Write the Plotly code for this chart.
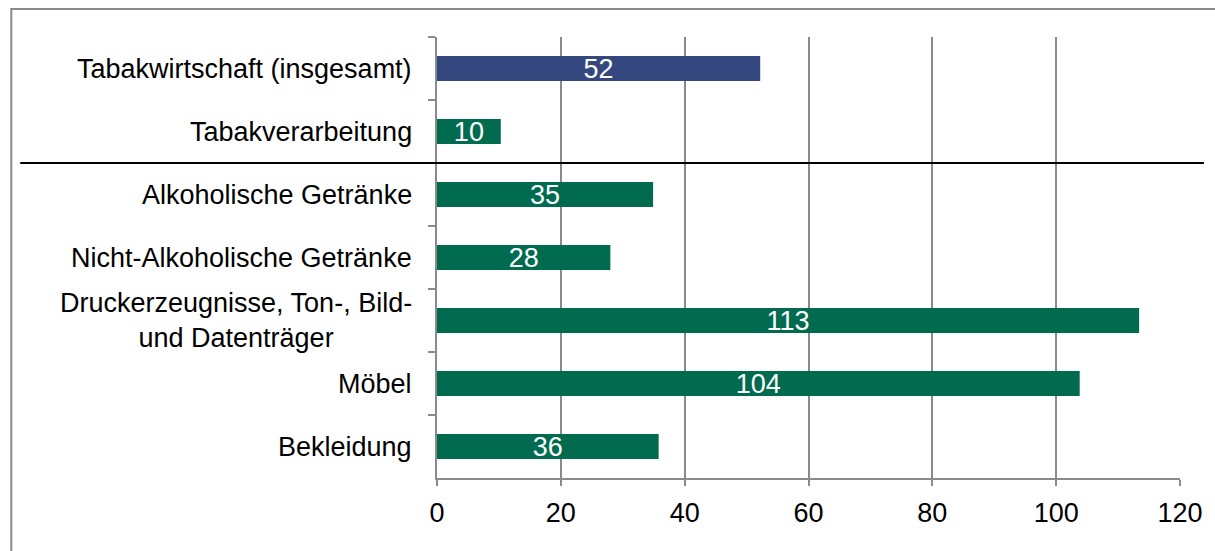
import plotly.graph_objects as go

# ---- data ----
categories = [
    "Tabakwirtschaft (insgesamt)",
    "Tabakverarbeitung",
    "Alkoholische Getränke",
    "Nicht-Alkoholische Getränke",
    "Druckerzeugnisse, Ton-, Bild-<br>und Datenträger",
    "Möbel",
    "Bekleidung",
]
values = [52.2, 10.3, 34.9, 28.0, 113.4, 103.8, 35.8]
highlight = "Tabakwirtschaft (insgesamt)"
x_ticks = [0, 20, 40, 60, 80, 100, 120]
separator_after = "Tabakverarbeitung"

# ---- styles ----
W, H = 1215, 551
L, R, T, B = 437, 1184, 37, 478
BLUE = "#34477E"
GREEN = "#006B4F"
GRAY = "#8A8A8A"
FONT = "Liberation Sans, Arial, sans-serif"
FS = 27

colors = [BLUE if c == highlight else GREEN for c in categories]

fig = go.Figure(
    go.Bar(
        y=categories,
        x=values,
        orientation="h",
        marker=dict(color=colors, line=dict(width=0)),
        texttemplate="%{x:.0f}",
        textposition="inside",
        insidetextanchor="middle",
        constraintext="none",
        textangle=0,
        textfont=dict(color="white", size=FS, family=FONT),
        hoverinfo="skip",
    )
)

pw, ph = R - L, B - T


def px_x(p):
    return (p - L) / pw


def px_y(p):
    return (B - p) / ph


shapes = [
    # outer frame (cropped at right and bottom)
    dict(type="rect", xref="paper", yref="paper",
         x0=px_x(9), x1=px_x(W + 20), y0=px_y(H + 20), y1=px_y(9),
         line=dict(color=GRAY, width=2), layer="below"),
    # separator line
    dict(type="line", xref="paper", yref="y",
         x0=px_x(18), x1=px_x(1208),
         y0=categories.index(separator_after) + 0.5,
         y1=categories.index(separator_after) + 0.5,
         line=dict(color="black", width=2), layer="above"),
]

annotations = [
    dict(xref="paper", yref="y", x=0, y=c, text=c, showarrow=False,
         xanchor="right", yanchor="middle", align="center", xshift=-23,
         font=dict(size=FS, family=FONT, color="black"))
    for c in categories
]

fig.update_layout(
    width=W, height=H, autosize=False,
    margin=dict(l=L, r=W - R, t=T, b=H - B, pad=0),
    paper_bgcolor="white", plot_bgcolor="white",
    bargap=0.6, showlegend=False,
    font=dict(family=FONT, size=FS, color="black"),
    shapes=shapes, annotations=annotations,
)
fig.update_xaxes(
    range=[0, 120], tickvals=x_ticks, ticktext=[str(v) for v in x_ticks],
    showgrid=True, gridcolor=GRAY, gridwidth=2,
    showline=True, linecolor=GRAY, linewidth=2,
    ticks="outside", ticklen=6, tickcolor=GRAY, tickwidth=2,
    ticklabelstandoff=4,
    zeroline=False, tickfont=dict(size=FS, family=FONT, color="black"),
    fixedrange=True,
)
fig.update_yaxes(
    type="category", categoryorder="array", categoryarray=categories,
    autorange="reversed",
    showgrid=False, showline=True, linecolor=GRAY, linewidth=2,
    ticks="outside", tickson="boundaries", ticklen=7, tickcolor=GRAY, tickwidth=2,
    showticklabels=False, zeroline=False, fixedrange=True,
)

fig.write_html(
    "out.html",
    config=dict(displayModeBar=False),
    post_script="document.body.style.margin='0';document.body.style.overflow='hidden';",
)
